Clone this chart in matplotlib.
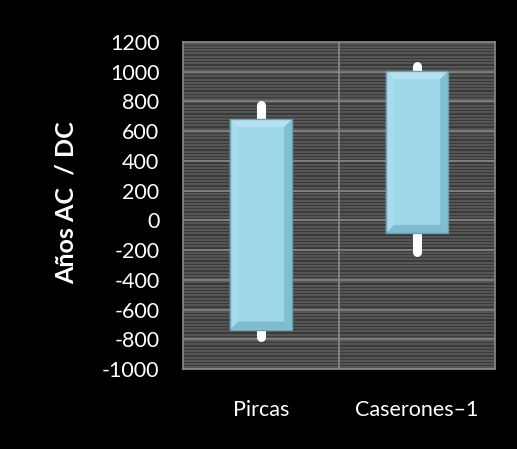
import numpy as np
import matplotlib
matplotlib.use("Agg")
import matplotlib.pyplot as plt
from matplotlib.patches import Polygon, Rectangle

# datos (años AC / DC)
sitios = ["Pircas", "Caserones\u20131"]
caja_inf = [-735, -85]
caja_sup = [680, 1005]
bigote_inf = [-785, -215]
bigote_sup = [775, 1040]
ticks_y = list(range(-1000, 1201, 200))

plt.rcParams['font.family'] = ['Lato', 'DejaVu Sans']

fig = plt.figure(figsize=(5.17, 4.49), dpi=100, facecolor="black")
ax = fig.add_axes([183/517, 80/449, 312/517, 327/449])
ax.set_facecolor("#3a3a3a")
ax.set_xlim(-0.5, 1.5)
ax.set_ylim(-1000, 1200)

# rayas finas del fondo
rayas = np.arange(-1000, 1200, 22)
for r in rayas:
    ax.axhline(r + 11, color="#585858", lw=1.3, zorder=0.5)
for t in ticks_y:
    ax.axhline(t, color="#858585", lw=1.2, zorder=0.8)
ax.axvline(0.5, color="#8a8a8a", lw=1.2, zorder=0.8)

for s in ax.spines.values():
    s.set_color("#8a8a8a")
    s.set_linewidth(1.2)

# escalas px -> datos para el bisel
px_x = 2.0 / 312
px_y = 2200 / 327
ancho = 0.4
bx = 8 * px_x
by = 8 * px_y

for i in range(len(sitios)):
    # bigotes
    ax.plot([i, i], [bigote_inf[i], bigote_sup[i]], color="white",
            lw=6.5, solid_capstyle="round", zorder=2)
    x0, x1 = i - ancho/2, i + ancho/2
    y0, y1 = caja_inf[i], caja_sup[i]
    ax.add_patch(Rectangle((x0, y0), ancho, y1 - y0, facecolor="#9dd7e8",
                           edgecolor="none", zorder=3))
    # bisel: arriba, derecha, abajo, izquierda
    ax.add_patch(Polygon([(x0, y1), (x1, y1), (x1 - bx, y1 - by), (x0 + bx, y1 - by)],
                         facecolor="#b4e2ef", edgecolor="none", zorder=4))
    ax.add_patch(Polygon([(x1, y1), (x1, y0), (x1 - bx, y0 + by), (x1 - bx, y1 - by)],
                         facecolor="#7fbfd2", edgecolor="none", zorder=4))
    ax.add_patch(Polygon([(x0, y0), (x1, y0), (x1 - bx, y0 + by), (x0 + bx, y0 + by)],
                         facecolor="#80bccd", edgecolor="none", zorder=4))
    ax.add_patch(Polygon([(x0, y1), (x0, y0), (x0 + bx, y0 + by), (x0 + bx, y1 - by)],
                         facecolor="#a6dcec", edgecolor="none", zorder=4))
    ax.add_patch(Rectangle((x0, y0), ancho, y1 - y0, facecolor="none",
                           edgecolor="#6a9fb0", lw=1.0, zorder=5))

ax.set_yticks(ticks_y)
ax.set_yticklabels([str(t) for t in ticks_y])
ax.set_xticks(range(len(sitios)))
ax.set_xticklabels(sitios)
ax.tick_params(axis="y", length=0, pad=17, labelsize=15.5, colors="white")
ax.tick_params(axis="x", length=0, pad=22, labelsize=15.5, colors="white")

fig.text(66/517, 1 - 203/449, "Años AC  / DC", rotation=90, color="white",
         fontsize=18, fontweight="bold", ha="center", va="center")

fig.savefig("out.png", dpi=100, facecolor="black")
